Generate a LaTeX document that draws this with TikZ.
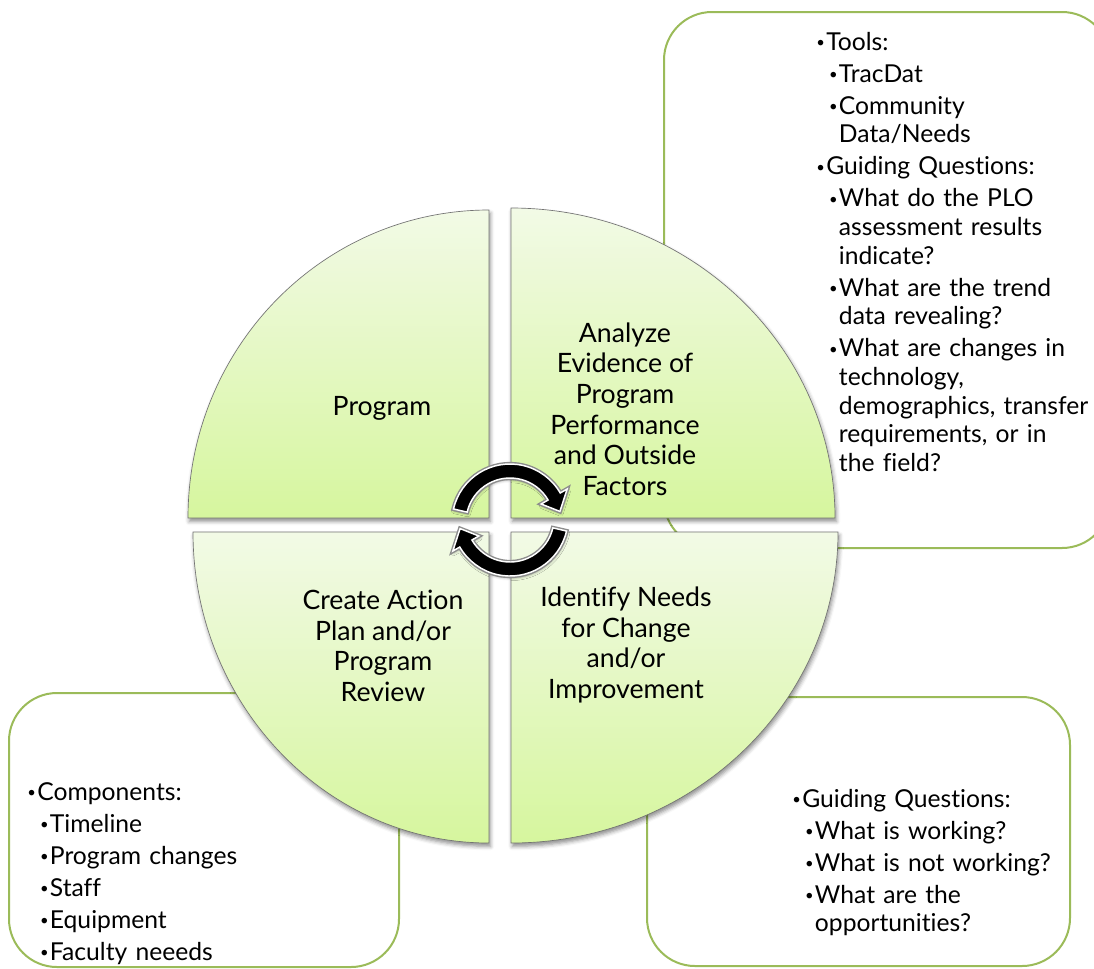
\documentclass[tikz,border=0pt]{standalone}
\usepackage{fontspec}
\setmainfont{Lato}[Ligatures=NoCommon]
\usepackage{tikz}
\usetikzlibrary{shadows.blur}

\definecolor{boxgreen}{RGB}{155,187,89}
\definecolor{quadtop}{RGB}{242,250,230}
\definecolor{quadbot}{RGB}{214,246,158}

\newcommand{\bul}{\raisebox{0.1em}{\scalebox{0.6}{\textbullet}}}
\newcommand{\lvla}[1]{\leftskip=0pt\noindent\llap{\bul\hspace{1pt}}#1\par}
\newcommand{\lvlb}[1]{\leftskip=9.5pt\noindent\llap{\bul\hspace{1pt}}#1\par}

\begin{document}
\begin{tikzpicture}[x=0.75pt,y=0.75pt,yscale=-1,
  greenbox/.style={draw=boxgreen, line width=1.5pt, rounded corners=36pt},
  quadrant/.style={draw=black!55, line width=0.5pt, top color=quadtop, bottom color=quadbot,
    blur shadow={shadow xshift=1pt, shadow yshift=-2.5pt, shadow blur radius=3pt, shadow opacity=45}},
  quadtext/.style={align=center, font=\fontsize{20}{23}\selectfont},
  listtext/.style={anchor=base west, inner sep=0pt, text width=230pt, align=left,
    font=\fontsize{18.5}{21.5}\selectfont\setlength{\parskip}{2.5pt}},
  cyclearrow/.style={fill=black, draw=white, line width=1.1pt},
  cycleedge/.style={draw=black!45, line width=3.2pt,
    blur shadow={shadow xshift=0.5pt, shadow yshift=-1.5pt, shadow blur radius=2pt, shadow opacity=35}}]

\useasboundingbox (0,0) rectangle (1094,968);

%Shape: Boxes behind the circle
\draw[greenbox] (664,12) rectangle (1110,548);
\draw[greenbox] (9,693) rectangle (399,967);
\draw[greenbox] (647,697) rectangle (1070,966);

%Shape: Quadrants
\path[quadrant] (489,518) -- (188,518) arc[start angle=180, end angle=270, x radius=301, y radius=308] -- cycle;
\path[quadrant] (511,518) -- (511,208) arc[start angle=270, end angle=360, x radius=324, y radius=310] -- cycle;
\path[quadrant] (489,532) -- (489,843) arc[start angle=90, end angle=180, x radius=296, y radius=311] -- cycle;
\path[quadrant] (511,532) -- (838,532) arc[start angle=0, end angle=90, x radius=327, y radius=311] -- cycle;

%Shape: Circular arrows
\foreach \cy/\rot in {522/0, 518/180}{
  \path[cycleedge, shift={(510,\cy)}, rotate=\rot] (-167:58) arc[start angle=-167, end angle=-30, radius=58]
    -- (-30:66) -- (-12:51) -- (-30:36) -- (-30:44) arc[start angle=-30, end angle=-167, radius=44] -- cycle;
  \path[cyclearrow, shift={(510,\cy)}, rotate=\rot] (-167:58) arc[start angle=-167, end angle=-30, radius=58]
    -- (-30:66) -- (-12:51) -- (-30:36) -- (-30:44) arc[start angle=-30, end angle=-167, radius=44] -- cycle;
}

% Text Node
\node[quadtext] (program) at (382,408) {Program};
% Text Node
\node[quadtext] (analyze) at (625,409) {Analyze\\Evidence of\\Program\\Performance\\and Outside\\Factors};
% Text Node
\node[quadtext] (action) at (383,646) {Create Action\\Plan and/or\\Program\\Review};
% Text Node
\node[quadtext] (identify) at (626,645) {Identify Needs\\for Change\\and/or\\Improvement};

% Text Node
\node[listtext] (tools) at (826,50) {%
  \lvla{Tools:}
  \lvlb{TracDat}
  \lvlb{Community\\Data/Needs}
  \lvla{Guiding Questions:}
  \lvlb{What do the PLO\\assessment results\\indicate?}
  \lvlb{What are the trend\\data revealing?}
  \lvlb{What are changes in\\technology,\\demographics, transfer\\requirements, or in\\the field?}};
% Text Node
\node[listtext] (components) at (37,800) {%
  \lvla{Components:}
  \lvlb{Timeline}
  \lvlb{Program changes}
  \lvlb{Staff}
  \lvlb{Equipment}
  \lvlb{Faculty neeeds}};
% Text Node
\node[listtext] (questions) at (802,807) {%
  \lvla{Guiding Questions:}
  \lvlb{What is working?}
  \lvlb{What is not working?}
  \lvlb{What are the\\opportunities?}};

\end{tikzpicture}
\end{document}
